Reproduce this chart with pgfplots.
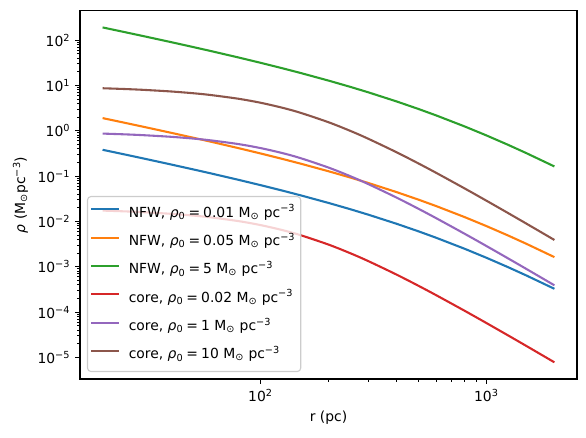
\documentclass[border=0pt]{standalone}
\usepackage{pgfplots}
\pgfplotsset{compat=1.18}
\usepackage{fontspec}
\setmainfont{DejaVu Sans}
\definecolor{c0}{HTML}{1F77B4}
\definecolor{c1}{HTML}{FF7F0E}
\definecolor{c2}{HTML}{2CA02C}
\definecolor{c3}{HTML}{D62728}
\definecolor{c4}{HTML}{9467BD}
\definecolor{c5}{HTML}{8C564B}
\newcommand{\lab}[2]{#1, \textit{ρ}\textsubscript{0}\hspace{0.22em}=\hspace{0.22em}#2 M\textsubscript{⊙} pc\textsuperscript{−3}}
\begin{document}
\begin{tikzpicture}
\begin{axis}[
  scale only axis, width=357.8pt, height=265.2pt,
  xmode=log, ymode=log,
  xmin=15.887, xmax=2517.9, ymin=3.334e-6, ymax=445.6,
  axis line style={black, line width=0.8pt},
  tick align=outside, xtick pos=bottom, ytick pos=left,
  major tick length=3.5pt, minor tick length=2pt,
  every major tick/.style={black, line width=0.8pt},
  every minor tick/.style={black, line width=0.6pt},
  xtick={100,1000}, xticklabels={10\textsuperscript{2},10\textsuperscript{3}},
  ytick={1e-5,1e-4,1e-3,1e-2,1e-1,1,10,100},
  yticklabels={10\textsuperscript{−5},10\textsuperscript{−4},10\textsuperscript{−3},10\textsuperscript{−2},10\textsuperscript{−1},10\textsuperscript{0},10\textsuperscript{1},10\textsuperscript{2}},
  tick label style={font=\fontsize{10}{12}\selectfont},
  label style={font=\fontsize{10}{12}\selectfont},
  xlabel={r (pc)}, ylabel={\textit{ρ} (M\textsubscript{⊙}pc\textsuperscript{−3})},
  legend cell align=left,
  legend image code/.code={\draw[#1] (0pt,0.28em) -- (20pt,0.28em);},
  legend style={at={(0,0)}, xshift=5pt, yshift=5pt, anchor=south west,
    draw=black!20, line width=0.8pt, rounded corners=2.5pt, fill=white, fill opacity=0.8,
    draw opacity=1, text opacity=1, font=\fontsize{10}{12}\selectfont,
    inner xsep=1.9pt, inner ysep=6.75pt, row sep=9.9pt, column sep=4.35pt,
    nodes={inner xsep=2pt, inner ysep=0pt, text height=8pt, text depth=2.5pt}},
  every axis plot/.append style={line width=1.5pt},
]
\addplot[c0] coordinates {(20,0.3807) (25,0.3009) (30,0.2477) (40,0.1814) (50,0.1417) (60,0.1154) (80,0.08264) (100,0.06321) (125,0.04787) (150,0.03782) (200,0.02560) (250,0.01858) (300,0.014105) (400,0.008889) (500,0.006059) (600,0.004354) (800,0.0025) (1000,0.0015802) (1250,0.0009747) (1500,0.0006452) (2000,0.00032653)};
\addlegendentry{\lab{NFW}{0.01}}
\addplot[c1] coordinates {(20,1.9035) (25,1.5045) (30,1.2385) (40,0.907) (50,0.7085) (60,0.577) (80,0.4132) (100,0.31605) (125,0.23935) (150,0.1891) (200,0.128) (250,0.0929) (300,0.070525) (400,0.044445) (500,0.030295) (600,0.02177) (800,0.0125) (1000,0.007901) (1250,0.0048735) (1500,0.003226) (2000,0.00163265)};
\addlegendentry{\lab{NFW}{0.05}}
\addplot[c2] coordinates {(20,190.35) (25,150.45) (30,123.85) (40,90.7) (50,70.85) (60,57.7) (80,41.32) (100,31.605) (125,23.935) (150,18.91) (200,12.8) (250,9.29) (300,7.0525) (400,4.4445) (500,3.0295) (600,2.177) (800,1.25) (1000,0.7901) (1250,0.48735) (1500,0.3226) (2000,0.163265)};
\addlegendentry{\lab{NFW}{5}}
\addplot[c3, smooth] coordinates {(20,0.017339) (25,0.01668) (30,0.016026) (40,0.014741) (50,0.0135) (60,0.012315) (80,0.010155) (100,0.0083076) (125,0.0064382) (150,0.005) (200,0.0030858) (250,0.0019853) (300,0.0013333) (400,0.00067248) (500,0.00038108) (600,0.0002353) (800,0.00010725) (1000,5.7404e-5) (1250,3.042e-5) (1500,1.8002e-5) (2000,7.805e-6)};
\addlegendentry{\lab{core}{0.02}}
\addplot[c4, smooth] coordinates {(20,0.86694) (25,0.83398) (30,0.80128) (40,0.73706) (50,0.675) (60,0.61576) (80,0.50775) (100,0.41538) (125,0.32191) (150,0.25) (200,0.15429) (250,0.099265) (300,0.066667) (400,0.033624) (500,0.019054) (600,0.011765) (800,0.0053625) (1000,0.0028702) (1250,0.001521) (1500,0.00090009) (2000,0.00039025)};
\addlegendentry{\lab{core}{1}}
\addplot[c5, smooth] coordinates {(20,8.6694) (25,8.3398) (30,8.0128) (40,7.3706) (50,6.75) (60,6.1576) (80,5.0775) (100,4.1538) (125,3.2191) (150,2.5) (200,1.5429) (250,0.99265) (300,0.66667) (400,0.33624) (500,0.19054) (600,0.11765) (800,0.053625) (1000,0.028702) (1250,0.01521) (1500,0.0090009) (2000,0.0039025)};
\addlegendentry{\lab{core}{10}}
\end{axis}
\pgfresetboundingbox
\path ([xshift=-57.6pt,yshift=-41.8pt]current axis.south west) rectangle ([xshift=6.5pt,yshift=7.7pt]current axis.north east);
\end{tikzpicture}
\end{document}
